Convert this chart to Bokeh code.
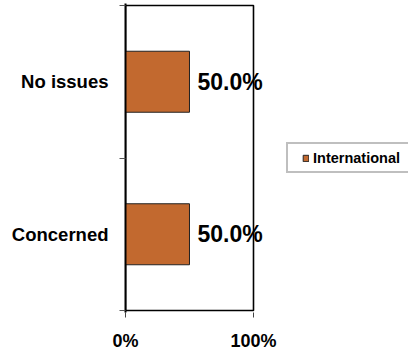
from bokeh.plotting import figure
from bokeh.models import (Range1d, FixedTicker, LabelSet, ColumnDataSource,
                          Legend, LegendItem, LinearAxis)
from bokeh.core.properties import value
from bokeh.embed import file_html
from bokeh.resources import INLINE

# Chart data
categories = ["Concerned", "No issues"]
shares = [50.0, 50.0]
series_name = "International"
x_ticks = [0, 100]
x_tick_labels = ["0%", "100%"]

FONT = "Liberation Sans"
BAR_COLOR = "#C2692F"

positions = [i + 0.5 for i in range(len(categories))]
src = ColumnDataSource(dict(
    cat=categories,
    y=positions,
    share=shares,
    text=[f"{v:.1f}%" for v in shares],
))

# The frame runs on to the right edge of the canvas so that the value labels
# and the legend are not cut; the plot-area box is drawn as a quad 0..100.
n = len(categories)
p = figure(width=408, height=354, output_backend="svg", toolbar_location=None,
           x_range=Range1d(0, 221.1), y_range=Range1d(-0.0131, n + 0.0131),
           min_border_left=125, min_border_right=0,
           min_border_top=3, min_border_bottom=42)
p.background_fill_color = "white"
p.border_fill_color = "white"
p.xgrid.visible = False
p.ygrid.visible = False
p.outline_line_color = None

p.quad(left=x_ticks[0], right=x_ticks[-1], bottom=0, top=n,
       fill_color=None, line_color="black", line_width=1.6)

bars = p.hbar(y="y", left=0, right="share", height=0.4, source=src,
              fill_color=BAR_COLOR, line_color="#222222", line_width=1)

# Value axis
xa = p.xaxis[0]
xa.ticker = FixedTicker(ticks=x_ticks)
xa.major_label_overrides = dict(zip(x_ticks, x_tick_labels))
xa.axis_line_color = None
xa.major_tick_out = 5
xa.major_tick_in = 0
xa.major_tick_line_color = "#444444"
xa.minor_tick_line_color = None
xa.major_label_standoff = 13
xa.major_label_text_font = FONT
xa.major_label_text_font_style = "bold"
xa.major_label_text_font_size = "18px"
xa.major_label_text_color = "black"

# Category axis: ticks on the band boundaries ...
ya = p.yaxis[0]
ya.ticker = FixedTicker(ticks=list(range(n + 1)))
ya.major_label_text_alpha = 0
ya.major_label_text_font_size = "1px"
ya.major_label_standoff = 0
ya.axis_line_color = "black"
ya.axis_line_width = 2
ya.major_tick_out = 6
ya.major_tick_in = 0
ya.major_tick_line_color = "#555555"
ya.minor_tick_line_color = None

# ... and the category names at the band centres
cat_axis = LinearAxis(ticker=FixedTicker(ticks=positions),
                      major_label_overrides=dict(zip(positions, categories)),
                      axis_line_color=None, major_tick_line_color=None,
                      minor_tick_line_color=None,
                      major_tick_out=0, major_tick_in=0,
                      major_label_standoff=11,
                      major_label_text_font=FONT,
                      major_label_text_font_style="bold",
                      major_label_text_font_size="18.5px",
                      major_label_text_color="black")
p.add_layout(cat_axis, "left")

value_labels = LabelSet(x="share", y="y", text="text", source=src, x_offset=8,
                        text_align="left", text_baseline="middle",
                        text_font=value(FONT), text_font_style="bold",
                        text_font_size="23px", text_color="black")
p.add_layout(value_labels)

legend = Legend(items=[LegendItem(label=series_name, renderers=[bars])],
                location=(161, 139), padding=5, margin=0, spacing=0,
                glyph_width=7, glyph_height=8, label_standoff=4,
                label_height=17, label_width=102,
                label_text_font=FONT, label_text_font_style="bold",
                label_text_font_size="14.5px", label_text_color="black",
                border_line_color="#808080", border_line_width=2,
                background_fill_color="white", background_fill_alpha=1,
                title=" ", title_location="left", title_standoff=0,
                title_text_font_size="8px")
p.add_layout(legend)

open("out.html", "w").write(file_html(p, INLINE))
